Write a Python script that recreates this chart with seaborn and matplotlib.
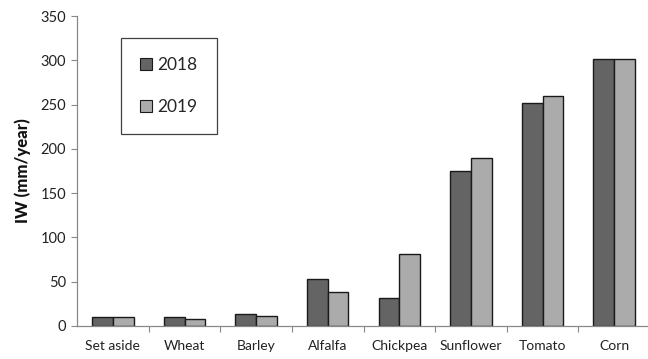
import matplotlib
matplotlib.use("Agg")
import matplotlib.pyplot as plt
from matplotlib.patches import Patch
import seaborn as sns
import pandas as pd

crops = ["Set aside", "Wheat", "Barley", "Alfalfa", "Chickpea", "Sunflower", "Tomato", "Corn"]
iw_2018 = [10, 10, 14, 53, 32, 175, 252, 302]
iw_2019 = [10, 8, 11, 38, 81, 190, 260, 302]
years = ["2018", "2019"]
colors = ["#646464", "#ababab"]

df = pd.DataFrame({
    "crop": crops * 2,
    "iw": iw_2018 + iw_2019,
    "year": [years[0]] * len(crops) + [years[1]] * len(crops),
})

sns.set_theme(style="white")
plt.rcParams["font.family"] = ["Lato", "DejaVu Sans"]

fig = plt.figure(figsize=(6.48, 3.59), dpi=100)
ax = fig.add_axes([0.119, 0.092, 0.884, 0.863])

sns.barplot(data=df, x="crop", y="iw", hue="year", order=crops, hue_order=years,
            palette=colors, width=0.58, edgecolor="#1a1a1a", linewidth=1.0,
            saturation=1, ax=ax, legend=False)

ax.set_ylim(0, 350)
ax.set_xlim(-0.5, len(crops) - 0.5)
ax.set_yticks(range(0, 351, 50))
ax.tick_params(axis="y", labelsize=10.5, length=4, width=0.8, color="#888888",
               left=True, pad=4, labelcolor="#222222")
ax.tick_params(axis="x", which="major", length=0, labelsize=10, pad=10, labelcolor="#222222")
ax.set_xticks([i - 0.5 for i in range(1, len(crops))], minor=True)
ax.tick_params(axis="x", which="minor", length=4, width=0.8, color="#888888", bottom=True)

for side in ["top", "right"]:
    ax.spines[side].set_visible(False)
for side in ["left", "bottom"]:
    ax.spines[side].set_color("#888888")
    ax.spines[side].set_linewidth(0.9)

ax.set_xlabel("")
ax.set_ylabel("IW (mm/year)", fontsize=12, fontweight="black", color="#111111", labelpad=7)

handles = [Patch(facecolor=c, edgecolor="#1a1a1a", linewidth=0.8) for c in colors]
leg = ax.legend(handles, years, loc="upper left", bbox_to_anchor=(0.077, 0.93),
                fontsize=12.5, frameon=True, fancybox=False, edgecolor="#111111",
                handlelength=0.7, handleheight=0.7, handletextpad=0.3,
                labelspacing=1.5, borderpad=1.1, borderaxespad=0)
leg.get_frame().set_linewidth(0.9)

fig.savefig("out.png", dpi=100)
